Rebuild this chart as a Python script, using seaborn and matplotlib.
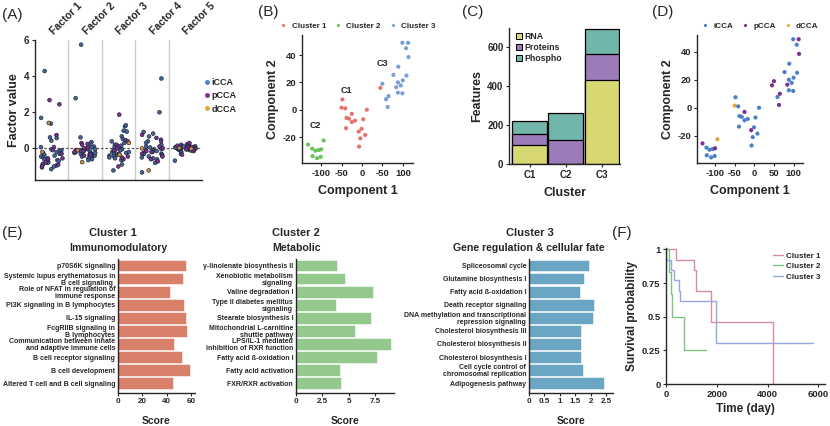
import numpy as np
import pandas as pd
import matplotlib
matplotlib.use("Agg")
import matplotlib.pyplot as plt
from matplotlib.lines import Line2D
from matplotlib.patches import Patch
import seaborn as sns

# ---------------- dados

# (A) valores dos fatores por subtipo
factors = ["Factor 1", "Factor 2", "Factor 3", "Factor 4", "Factor 5"]
subtypes = ["iCCA", "pCCA", "dCCA"]

f1_icca = [4.28, 1.69, 1.37, 0.57, 0.61, 0.43, 0.07, -0.05, -0.1, -0.15, -0.2, -0.25, -0.3, -0.3, -0.35,
           -0.4, -0.45, -0.5, -0.55, -0.6, -0.65, -0.7, -0.75, -0.8, -0.85, -0.9, -0.95, -1.0, -1.05, -1.15]
f1_pcca = [2.67, 2.44, 0.74, 0.07, -0.1, -0.3, -0.55, -0.6, -0.78, -0.9, -1.0]
f1_dcca = [1.41, -0.2]

f2_icca = [5.74, 2.78, 0.61, 0.35, 0.1, 0.05, 0.0, -0.05, -0.1, -0.1, -0.15, -0.2, -0.2, -0.25, -0.3,
           -0.3, -0.35, -0.35, -0.4, -0.4, -0.45, -0.5, -0.5, -0.55, -0.6, -0.65, -0.25, -0.15, 0.25, -0.05]
f2_pcca = [0.3, 0.25, 0.2, 0.0, -0.1, -0.2, -0.3, -0.4, 0.05, -0.35, -0.15]
f2_dcca = [-0.76, -0.1]

f3_icca = [1.22, 1.28, 0.98, 0.93, 0.67, 0.52, 0.39, 0.3, 0.2, 0.1, 0.05, 0.0, -0.05, -0.1, -0.15,
           -0.2, -0.25, -0.3, -0.35, -0.4, -0.45, -0.5, -0.55, -0.6, -0.2, 0.15, -1.22, -0.89, -0.65, 0.45]
f3_pcca = [1.87, 0.4, 0.2, -0.1, -0.3, -0.45, -0.6, -1.0, 0.1, -0.5, 0.0]
f3_dcca = [-0.35, 0.3]

f4_icca = [3.87, 2.0, 0.91, 0.82, 0.66, 0.48, 0.39, 0.2, 0.1, 0.05, 0.0, -0.05, -0.05, -0.1, -0.1,
           -0.15, -0.2, -0.2, -0.25, -0.3, -0.3, -0.35, -0.4, -0.45, -0.5, -0.55, -0.6, -0.8, -1.33, 0.3]
f4_pcca = [0.58, 0.75, 0.1, 0.0, -0.15, -0.3, -0.45, -0.72, -0.6, -0.2, 0.4]
f4_dcca = [-1.22, 0.0]

f5_icca = [0.25, 0.2, 0.15, 0.12, 0.1, 0.08, 0.06, 0.05, 0.04, 0.03, 0.02, 0.01, 0.0, 0.0, -0.01,
           -0.02, -0.03, -0.04, -0.05, -0.06, -0.08, -0.1, -0.12, -0.15, -0.2, -0.3, -0.68, 0.1, 0.05, -0.05]
f5_pcca = [0.3, 0.2, 0.1, 0.05, 0.0, -0.05, -0.1, -0.35, 0.15, -0.02, 0.08]
f5_dcca = [0.02, -0.02]

# (B)/(D) componentes
comp1 = [-132, -122, -114, -106, -100, -121, -110, -101, -94,
         -48, -50, -41, -38, -32, -39, -25, -25, -17, -8, -4, -1, 3, 8, 12, -7, 45,
         50, 59, 63, 65, 77, 89, 84, 88, 95, 100, 88, 99, 109, 99, 113, 108, 114]
comp2 = [-25.5, -28.5, -30, -29.5, -29, -34, -35.5, -34.5, -22.5,
         7.5, 1.5, 1, -6, -6.5, -13.5, -3, -9, -8, -16, -21, -14, -7, -18.5, 0, -27, 16,
         19, 7.7, 2, 10, 25.5, 31.5, 16.5, 20, 17.8, 21.5, 12.5, 12, 25, 49, 49, 45, 38.5]
cluster = ["Cluster 2"] * 9 + ["Cluster 1"] * 17 + ["Cluster 3"] * 17
subtype = ["pCCA", "iCCA", "iCCA", "iCCA", "pCCA", "iCCA", "iCCA", "iCCA", "dCCA",
           "iCCA", "dCCA", "iCCA", "iCCA", "iCCA", "iCCA", "pCCA", "iCCA", "iCCA", "pCCA",
           "iCCA", "iCCA", "iCCA", "iCCA", "iCCA", "iCCA", "pCCA",
           "pCCA", "iCCA", "pCCA", "pCCA", "iCCA", "iCCA", "pCCA", "iCCA", "iCCA", "iCCA",
           "iCCA", "iCCA", "iCCA", "iCCA", "pCCA", "iCCA", "pCCA"]
clusters = ["Cluster 1", "Cluster 2", "Cluster 3"]

# (C) features
c_labels = ["C1", "C2", "C3"]
rna = [96, 0, 431]
proteins = [59, 125, 135]
phospho = [65, 137, 127]

# (E) vias
e1_labels = ["p70S6K signaling", "Systemic lupus erythematosus in\nB cell signaling ",
             "Role of NFAT in regulation of\nimmune response", "PI3K signaling in B lymphocytes",
             "IL-15 signaling", "FcgRIIB signaling in\nB lymphocytes",
             "Communication between innate\nand adaptive immune cells", "B cell receptor signaling",
             "B cell development", "Altered T cell and B cell signaling"]
e1_scores = [56.2, 53.5, 43, 54.3, 55.7, 56.8, 45.8, 52.4, 59, 45.3]

e2_labels = ["γ-linolenate biosynthesis II", "Xenobiotic metabolism\nsignaling", "Valine degradation I",
             "Type II diabetes mellitus\nsignaling", "Stearate biosynthesis I",
             "Mitochondrial L-carnitine\nshuttle pathway", "LPS/IL-1 mediated\ninhibition of RXR function",
             "Fatty acid ß-oxidation I", "Fatty acid activation", "FXR/RXR activation"]
e2_scores = [3.9, 4.65, 7.3, 3.8, 7.1, 5.6, 9.05, 7.65, 4.2, 4.3]

e3_labels = ["Spliceosomal cycle", "Glutamine biosynthesis I", "Fatty acid ß-oxidation I",
             "Death receptor signaling", "DNA methylation and transcriptional\nrepression signaling",
             "Cholesterol biosynthesis III", "Cholesterol biosynthesis II", "Cholesterol biosynthesis I",
             "Cell cycle control of\nchromosomal replication", "Adipogenesis pathway"]
e3_scores = [1.95, 1.77, 1.65, 2.1, 2.06, 1.68, 1.69, 1.69, 1.74, 2.42]

# (F) sobrevida
t_c1 = [0, 400, 1090, 1180, 1780, 4200]
s_c1 = [1, 0.923, 0.846, 0.692, 0.461, 0]
t_c2 = [0, 105, 195, 235, 693, 1570]
s_c2 = [1, 0.833, 0.667, 0.5, 0.25, 0.25]
t_c3 = [0, 10, 200, 300, 500, 540, 1975, 5800]
s_c3 = [1, 0.923, 0.846, 0.769, 0.692, 0.615, 0.308, 0.308]

# ---------------- estilo
sns.set_style("ticks")
plt.rcParams["font.family"] = ["Liberation Sans", "DejaVu Sans"]
plt.rcParams["font.weight"] = "bold"
plt.rcParams["axes.labelweight"] = "bold"
plt.rcParams["axes.unicode_minus"] = False
plt.rcParams["axes.linewidth"] = 1.0
plt.rcParams["xtick.major.size"] = 2.5
plt.rcParams["ytick.major.size"] = 2.5
plt.rcParams["xtick.major.pad"] = 1.5
plt.rcParams["ytick.major.pad"] = 1.5

sub_pal = {"iCCA": "#4a7fc9", "pCCA": "#7f2f92", "dCCA": "#e8a33a"}
a_pal = {"iCCA": "#45659e", "pCCA": "#7e2f8f", "dCCA": "#d8913a"}
clu_pal = {"Cluster 1": "#e8736d", "Cluster 2": "#6cc25a", "Cluster 3": "#7b9fd8"}
km_pal = {"Cluster 1": "#d68c9c", "Cluster 2": "#7fc47c", "Cluster 3": "#95a7de"}
col_rna, col_prot, col_phos = "#d8d872", "#9b7bb8", "#72b5aa"

W, H = 830, 426
fig = plt.figure(figsize=(8.3, 4.26), dpi=100)


def box(l, t, r, b):
    return fig.add_axes([l / W, 1 - b / H, (r - l) / W, (b - t) / H])


def ftext(x, y, s, **kw):
    fig.text(x / W, 1 - y / H, s, **kw)


# ---------------- (A)
rows = []
for fac, vals in zip(factors, [(f1_icca, f1_pcca, f1_dcca), (f2_icca, f2_pcca, f2_dcca),
                               (f3_icca, f3_pcca, f3_dcca), (f4_icca, f4_pcca, f4_dcca),
                               (f5_icca, f5_pcca, f5_dcca)]):
    for st, v in zip(subtypes, vals):
        for x in v:
            rows.append((fac, st, x))
dfA = pd.DataFrame(rows, columns=["factor", "subtype", "value"])

axA = box(35, 40, 202, 180)
for xv in [0.5, 1.5, 2.5, 3.5]:
    axA.axvline(xv, color="#cccccc", lw=1.0, zorder=0)
axA.axhline(0, color="#555555", lw=0.9, ls=(0, (2, 1.5)), zorder=0.5)
np.random.seed(11)
sns.stripplot(data=dfA, x="factor", y="value", hue="subtype", hue_order=subtypes, order=factors,
              palette=a_pal, jitter=0.33, size=2.7, linewidth=0.45, edgecolor="#1a2030",
              legend=False, ax=axA)
axA.set_xlim(-0.5, 4.5)
axA.set_ylim(-1.75, 6)
axA.set_yticks([0, 2, 4, 6])
axA.set_xticks([])
axA.set_xlabel("")
axA.set_ylabel("Factor value", fontsize=9, labelpad=3)
axA.tick_params(axis="y", labelsize=7)
sns.despine(ax=axA)
for i, fac in enumerate(factors):
    axA.text(i + 0.1, 6.2, fac, rotation=45, ha="left", va="bottom", rotation_mode="anchor",
             fontsize=7.5, clip_on=False)
hA = [Line2D([], [], marker="o", ls="", color=sub_pal[s], markersize=2.5) for s in subtypes]
axA.legend(hA, subtypes, loc="center left", bbox_to_anchor=(0.99, 0.6), frameon=False,
           fontsize=6.5, handlelength=0.5, handletextpad=0.2, borderpad=0, labelspacing=0.45)

# ---------------- (B)
axB = box(302, 35, 413, 163)
sns.scatterplot(x=comp1, y=comp2, hue=cluster, hue_order=clusters, palette=clu_pal, s=9,
                linewidth=0, ax=axB)
sns.move_legend(axB, "center", bbox_to_anchor=(0.48, 1.07), ncol=3, frameon=False, title=None,
                fontsize=5.8, handletextpad=0.0, columnspacing=0.5, markerscale=0.75, borderpad=0)
axB.set_xlim(-147, 125)
axB.set_ylim(-39, 54.7)
axB.set_xticks([-100, -50, 0, 50, 100])
axB.set_xticklabels(["-100", "-50", "0", "-50", "100"])
axB.set_yticks([-20, 0, 20, 40])
axB.tick_params(labelsize=6.8)
axB.set_xlabel("Component 1", fontsize=9, labelpad=5)
axB.set_ylabel("Component 2", fontsize=9, labelpad=3)
axB.text(-38, 14, "C1", fontsize=6.5, ha="center", va="center")
axB.text(-115, -11.5, "C2", fontsize=6.5, ha="center", va="center")
axB.text(50, 34, "C3", fontsize=6.5, ha="center", va="center")
sns.despine(ax=axB)

# ---------------- (C)
axC = box(509, 28, 620, 164)
tot = [a + b + c for a, b, c in zip(rna, proteins, phospho)]
low = [a + b for a, b in zip(rna, proteins)]
for vals, col in [(tot, col_phos), (low, col_prot), (rna, col_rna)]:
    sns.barplot(x=c_labels, y=vals, color=col, saturation=1, width=0.97, edgecolor="black",
                linewidth=0.9, ax=axC)
axC.set_xlim(-0.58, 2.5)
axC.set_ylim(0, 700)
axC.set_yticks([0, 200, 400, 600])
axC.tick_params(labelsize=7)
axC.set_xlabel("Cluster", fontsize=9, labelpad=5)
axC.set_ylabel("Features", fontsize=9, labelpad=3)
sns.despine(ax=axC)
hC = [Patch(facecolor=c, edgecolor="black", linewidth=0.7) for c in [col_rna, col_prot, col_phos]]
axC.legend(hC, ["RNA", "Proteins", "Phospho"], loc="upper left", bbox_to_anchor=(0.02, 1.0),
           frameon=False, fontsize=6.3, handlelength=0.7, handleheight=0.7, handletextpad=0.35,
           borderpad=0, labelspacing=0.2)

# ---------------- (D)
axD = box(697, 35, 803, 163)
sns.scatterplot(x=comp1, y=comp2, hue=subtype, hue_order=subtypes, palette=sub_pal, s=9,
                linewidth=0, ax=axD)
sns.move_legend(axD, "center", bbox_to_anchor=(0.575, 1.07), ncol=3, frameon=False, title=None,
                fontsize=5.8, handletextpad=0.0, columnspacing=0.5, markerscale=0.75, borderpad=0)
axD.set_xlim(-146, 124)
axD.set_ylim(-39.5, 52)
axD.set_xticks([-100, -50, 0, 50, 100])
axD.set_yticks([-20, 0, 20, 40])
axD.tick_params(labelsize=6.8)
axD.set_xlabel("Component 1", fontsize=9, labelpad=5)
axD.set_ylabel("Component 2", fontsize=9, labelpad=3)
sns.despine(ax=axD)

# ---------------- (E)
e_specs = [
    ((118, 259, 195, 393), e1_labels, e1_scores, "#d9806a", 63.3, [0, 20, 40, 60], ["0", "20", "40", "60"]),
    ((296, 259, 394, 393), e2_labels, e2_scores, "#93c98c", 9.3, [0, 2.5, 5, 7.5], ["0", "2.5", "5", "7.5"]),
    ((529, 259, 613, 393), e3_labels, e3_scores, "#6aa6c4", 2.72, [0, 0.5, 1, 1.5, 2, 2.5],
     ["0", "0.5", "1", "1.5", "2", "2.5"]),
]
for (l, t, r, b), labs, sc, col, xmax, xt, xtl in e_specs:
    ax = box(l, t, r, b)
    sns.barplot(x=sc, y=labs, orient="h", color=col, saturation=1, width=0.9, edgecolor="white",
                linewidth=0.4, ax=ax)
    ax.set_ylim(9.75, -0.5)
    ax.set_xlim(0, xmax)
    ax.set_xticks(xt)
    ax.set_xticklabels(xtl)
    ax.tick_params(axis="x", labelsize=5.8, length=2)
    ax.tick_params(axis="y", labelsize=5.0, length=0, pad=2)
    for lab in ax.get_yticklabels():
        lab.set_linespacing(1.05)
    ax.set_xlabel("Score", fontsize=7.5, labelpad=8)
    ax.set_ylabel("")
    sns.despine(ax=ax)

ftext(113, 233, "Cluster 1", ha="center", va="center", fontsize=8)
ftext(118, 248, "Immunomodulatory", ha="center", va="center", fontsize=7.6)
ftext(296, 233, "Cluster 2", ha="center", va="center", fontsize=8)
ftext(296, 248, "Metabolic", ha="center", va="center", fontsize=7.6)
ftext(530, 233, "Cluster 3", ha="center", va="center", fontsize=8)
ftext(529, 248, "Gene regulation & cellular fate", ha="center", va="center", fontsize=7.6)

# ---------------- (F)
axF = box(666, 248, 825, 384)
for name, tt, ss in [("Cluster 1", t_c1, s_c1), ("Cluster 2", t_c2, s_c2), ("Cluster 3", t_c3, s_c3)]:
    sns.lineplot(x=tt, y=ss, drawstyle="steps-post", color=km_pal[name], lw=1.0,
                 estimator=None, sort=False, ax=axF)
axF.set_xlim(0, 6260)
axF.set_ylim(0, 1.01)
axF.set_xticks([0, 2000, 4000, 6000])
axF.set_yticks([0, 0.25, 0.5, 0.75, 1])
axF.set_yticklabels(["0", "0.25", "0.5", "0.75", "1"])
axF.tick_params(labelsize=6.8)
axF.set_xlabel("Time (day)", fontsize=8.5, labelpad=3)
axF.set_ylabel("Survival probability", fontsize=8.5, labelpad=3)
hF = [Line2D([], [], color=km_pal[c], lw=1.0) for c in clusters]
axF.legend(hF, clusters, loc="upper right", bbox_to_anchor=(1.0, 1.0), frameon=False, fontsize=5.8,
           handlelength=1.3, handletextpad=0.4, borderpad=0, labelspacing=0.35)
sns.despine(ax=axF)

# ---------------- rótulos dos painéis
for x, y, s in [(2, 15, "(A)"), (258, 12, "(B)"), (462, 12, "(C)"), (652, 12, "(D)"),
                (2, 233, "(E)"), (612, 233, "(F)")]:
    ftext(x, y, s, fontsize=11, fontweight="normal", va="center", ha="left")

fig.savefig("out.png", dpi=100)
